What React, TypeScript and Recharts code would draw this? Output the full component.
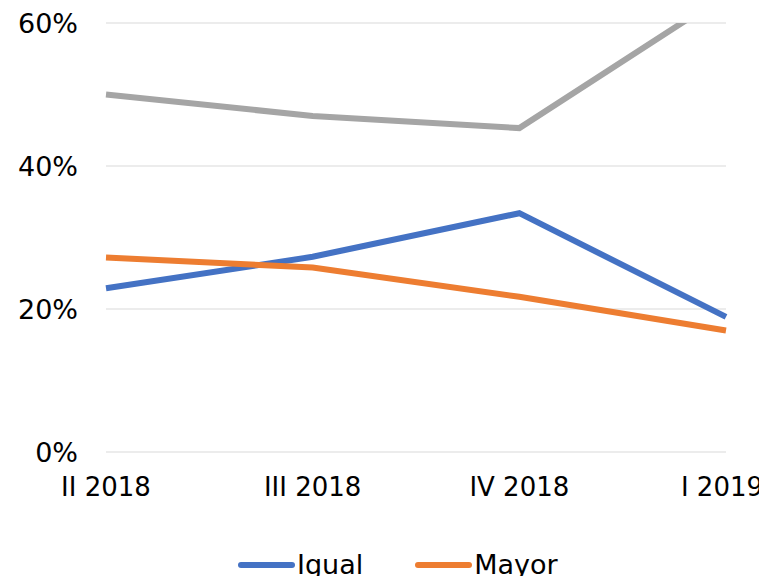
import { LineChart, Line, XAxis, YAxis, CartesianGrid, Legend } from 'recharts';

const quarters = ['II 2018', 'III 2018', 'IV 2018', 'I 2019'];
const igual = [22.9, 27.3, 33.4, 18.9];
const mayor = [27.2, 25.8, 21.7, 17.0];
const menor = [50.0, 47.0, 45.3, 64.0];
const yTicks = [0, 20, 40, 60];

const chartData = quarters.map((q, i) => ({
  quarter: q,
  igual: igual[i],
  mayor: mayor[i],
  menor: menor[i],
}));

const FONT = 'Verdana, "DejaVu Sans", sans-serif';

// last label would spill past the right edge, nudge it in a bit
const QuarterTick = ({ x, y, payload, index }: any) => {
  const shift = index === quarters.length - 1 ? -4 : 0;
  return (
    <text
      x={x + shift}
      y={y}
      dy="0.71em"
      textAnchor="middle"
      fill="#000"
      fontSize={26}
      fontFamily={FONT}
    >
      {payload.value}
    </text>
  );
};

const renderLegend = ({ payload }: any) => {
  const items = (payload || []).filter((p: any) => p.type !== 'none');
  return (
    <div style={{ display: 'flex', gap: 52, fontFamily: FONT, fontSize: 27, color: '#000', lineHeight: '32px' }}>
      {items.map((entry: any) => (
        <div key={entry.value} style={{ display: 'flex', alignItems: 'center', gap: 2 }}>
          <svg width={57} height={10}>
            <line x1={3} y1={5} x2={54} y2={5} stroke={entry.color} strokeWidth={6} strokeLinecap="round" />
          </svg>
          <span>{entry.value}</span>
        </div>
      ))}
    </div>
  );
};

export default function App() {
  return (
    <div style={{ margin: -8, width: 767, height: 584, background: '#fff', overflow: 'hidden' }}>
      <LineChart
        width={767}
        height={584}
        data={chartData}
        margin={{ top: 23, right: 41, bottom: 72, left: 0 }}
      >
        <CartesianGrid vertical={false} stroke="#d9d9d9" strokeWidth={1.2} />
        <XAxis
          dataKey="quarter"
          axisLine={false}
          tickLine={false}
          height={60}
          tickSize={0}
          tickMargin={26}
          interval={0}
          tick={<QuarterTick />}
        />
        <YAxis
          domain={[0, 60]}
          ticks={yTicks}
          allowDataOverflow
          width={106}
          axisLine={false}
          tickLine={false}
          tickSize={0}
          tickMargin={28}
          tickFormatter={(v: number) => `${v}%`}
          tick={{ fill: '#000', fontSize: 27, fontFamily: FONT }}
        />
        <Legend
          verticalAlign="middle"
          content={renderLegend}
          wrapperStyle={{ left: 238, top: 549, width: 'auto' }}
        />
        <Line
          dataKey="menor"
          name="Menor"
          stroke="#A5A5A5"
          strokeWidth={6}
          dot={false}
          legendType="none"
          isAnimationActive={false}
        />
        <Line
          dataKey="igual"
          name="Igual"
          stroke="#4472C4"
          strokeWidth={6}
          dot={false}
          isAnimationActive={false}
        />
        <Line
          dataKey="mayor"
          name="Mayor"
          stroke="#ED7D31"
          strokeWidth={6}
          dot={false}
          isAnimationActive={false}
        />
      </LineChart>
    </div>
  );
}
